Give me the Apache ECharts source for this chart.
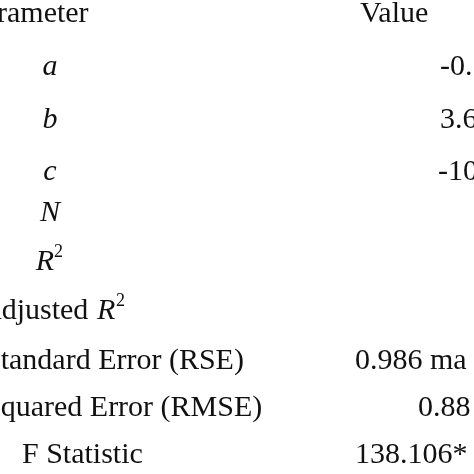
<!DOCTYPE html>
<html>
<head>
<meta charset="UTF-8">
<script src="https://cdn.jsdelivr.net/npm/echarts@6/dist/echarts.min.js"></script>
<style>html,body{margin:0;padding:0;background:#fff}</style>
</head>
<body>
<div id="main" style="width:474px;height:474px;"></div>
<script>
// table rows (cropped at the edges)
var header = ['Parameter', 'Value'];
var params = ['a', 'b', 'c', 'N', 'R', 'Adjusted ', 'Standard Error (RSE)', 'Squared Error (RMSE)', 'F Statistic'];
var values = ['-0.', '3.6', '-10', '', '', '', '0.986 ma', '0.88', '138.106*'];
var italicRows = [0, 1, 2, 3, 4];
var rowY = [67, 120, 172, 213, 262, 311, 361, 408, 455];
var paramX = [50, 50, 50, 50, 50, -20, -16, -16, 22];
var valueX = [440, 440, 438, 0, 0, 0, 355, 418, 355];

var font = '"Liberation Serif", "Times New Roman", serif';
var F = '30px ';
var els = [
  { type: 'text', x: -33, y: 14, style: { text: header[0], font: F + font, fill: '#111', verticalAlign: 'middle' } },
  { type: 'text', x: 360, y: 14, style: { text: header[1], font: F + font, fill: '#111', verticalAlign: 'middle' } }
];
for (var i = 0; i < params.length; i++) {
  var it = italicRows.indexOf(i) >= 0;
  var p = params[i];
  if (i === 4) {
    els.push({ type: 'text', x: 45, y: rowY[i], style: { text: 'R', font: 'italic ' + F + font, fill: '#111', align: 'center', verticalAlign: 'middle' } });
    els.push({ type: 'text', x: 54, y: rowY[i] - 10, style: { text: '2', font: '18px ' + font, fill: '#111', verticalAlign: 'middle' } });
  } else if (i === 5) {
    els.push({ type: 'text', x: paramX[i], y: rowY[i], style: { text: p, font: F + font, fill: '#111', verticalAlign: 'middle' } });
    els.push({ type: 'text', x: paramX[i] + 117, y: rowY[i], style: { text: 'R', font: 'italic ' + F + font, fill: '#111', verticalAlign: 'middle' } });
    els.push({ type: 'text', x: paramX[i] + 136, y: rowY[i] - 10, style: { text: '2', font: '18px ' + font, fill: '#111', verticalAlign: 'middle' } });
  } else {
    els.push({ type: 'text', x: paramX[i], y: rowY[i], style: { text: p, font: (it ? 'italic ' : '') + F + font, fill: '#111', align: it ? 'center' : 'left', verticalAlign: 'middle' } });
  }
  if (values[i]) {
    els.push({ type: 'text', x: valueX[i], y: rowY[i], style: { text: values[i], font: F + font, fill: '#111', verticalAlign: 'middle' } });
  }
}
var myChart = echarts.init(document.getElementById('main'));
myChart.setOption({ backgroundColor: '#fff', graphic: els });
</script>
</body>
</html>
